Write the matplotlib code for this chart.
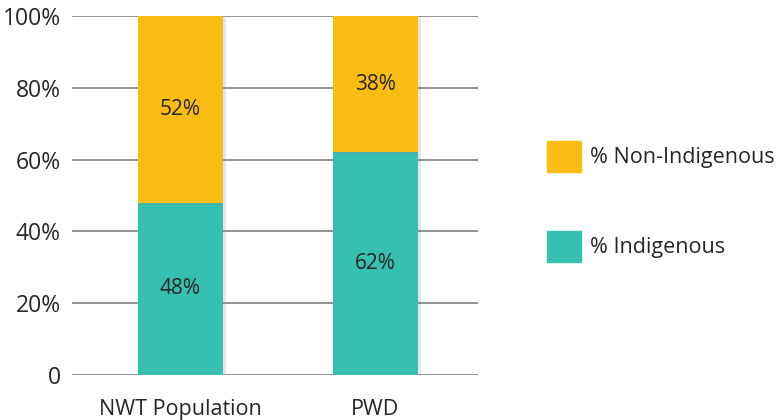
import numpy as np
import matplotlib
matplotlib.use("Agg")
import matplotlib.pyplot as plt
import matplotlib.patheffects as pe
from matplotlib.patches import Rectangle

categories = ["NWT Population", "PWD"]
indigenous = [48, 62]
non_indigenous = [52, 38]
yticks = [0, 20, 40, 60, 80, 100]
ytick_labels = ["0", "20%", "40%", "60%", "80%", "100%"]

c_orange = "#FBBD13"
c_teal = "#37BFB1"
txt = "#262626"

plt.rcParams["font.family"] = ["Open Sans", "DejaVu Sans"]

fig = plt.figure(figsize=(7.77, 4.20), dpi=100)
ax = fig.add_axes([72 / 777, 1 - 375 / 420, 406 / 777, 359 / 420])

x = np.arange(len(categories))
shadow = [pe.SimplePatchShadow(offset=(2.5, -1.5), alpha=0.2, shadow_rgbFace="#808080"), pe.Normal()]
b1 = ax.bar(x, indigenous, width=0.436, color=c_teal, zorder=3)
b2 = ax.bar(x, non_indigenous, width=0.436, bottom=indigenous, color=c_orange, zorder=3)
for b in list(b1) + list(b2):
    b.set_path_effects(shadow)

ax.bar_label(b1, labels=[f"{v}%" for v in indigenous], label_type="center", fontsize=15, color=txt)
ax.bar_label(b2, labels=[f"{v}%" for v in non_indigenous], label_type="center", fontsize=15, color=txt)

ax.set_xlim(-0.556, 1.526)
ax.set_ylim(0, 100)
ax.set_yticks(yticks)
ax.set_yticklabels(ytick_labels)
ax.set_xticks(x)
ax.set_xticklabels(categories)
ax.tick_params(axis="both", length=0, labelsize=15.5, colors=txt)
ax.tick_params(axis="y", pad=8, labelsize=16.5)
ax.tick_params(axis="x", pad=17)
for s in ax.spines.values():
    s.set_visible(False)
ax.yaxis.grid(True, color="#808080", lw=1.2, zorder=0)
ax.set_axisbelow(True)

# legend drawn by hand: swatch + label
legend_items = [("% Non-Indigenous", c_orange), ("% Indigenous", c_teal)]
for i, (lab, col) in enumerate(legend_items):
    top = 141 + i * 90
    fig.patches.append(Rectangle((547 / 777, 1 - (top + 31) / 420), 34 / 777, 31 / 420,
                                 transform=fig.transFigure, color=col))
    fig.text(590 / 777, 1 - (top + 16) / 420, lab, fontsize=15.5, color=txt, va="center", ha="left")

plt.savefig("out.png", dpi=100)
